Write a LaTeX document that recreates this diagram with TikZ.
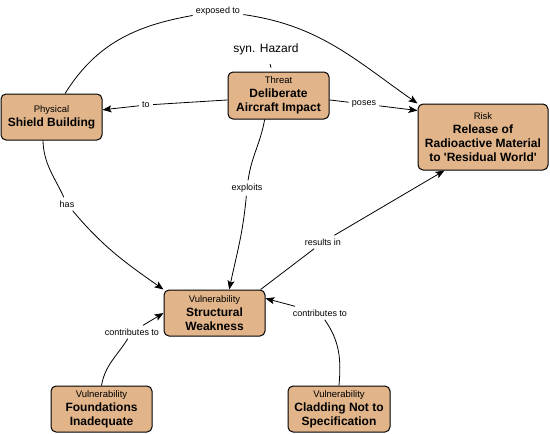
\documentclass[tikz,border=0pt]{standalone}
\usepackage{fontspec}
\setmainfont{Liberation Sans}
\usetikzlibrary{arrows.meta}

\definecolor{boxtan}{RGB}{225,180,138}

\tikzset{
  concept/.style={draw, line width=1pt, rounded corners=5pt, fill=boxtan,
    align=center, minimum width=101pt, minimum height=46pt, inner sep=2pt,
    font=\fontsize{12}{14}\selectfont\bfseries},
  linklabel/.style={font=\fontsize{9}{10}\selectfont, inner sep=3pt},
  link/.style={-{Stealth[length=9pt,width=7pt,inset=2pt]}},
}
\newcommand{\kind}[1]{{\fontsize{9.5}{11}\selectfont\mdseries #1}}

\begin{document}
\begin{tikzpicture}[
    x = 1pt,
    y = 1pt,
    line width = 0.8pt,
    ]
    \useasboundingbox (0,0) rectangle (550,-434);
    % concepts
    \node[concept] (shield) at (51.5,-117) {\kind{Physical}\\Shield Building};
    \node[concept, minimum height=47pt] (threat) at (278.5,-95.5)
      {\kind{Threat}\\Deliberate\\Aircraft Impact};
    \node[concept, minimum width=130pt, minimum height=66pt] (risk) at (483,-137)
      {\kind{Risk}\\Release of\\Radioactive Material\\to \textquotesingle Residual World\textquotesingle};
    \node[concept] (weak) at (214.5,-313) {\kind{Vulnerability}\\Structural\\Weakness};
    \node[concept] (found) at (101.5,-409) {\kind{Vulnerability}\\Foundations\\Inadequate};
    \node[concept, minimum width=102pt] (clad) at (339,-409)
      {\kind{Vulnerability}\\Cladding Not to\\Specification};
    \node[font=\fontsize{12}{14}\selectfont] (syn) at (266,-49) {syn. Hazard};
    % link labels
    \node[linklabel] (lexp)   at (218,-11)  {exposed to};
    \node[linklabel] (lto)    at (146,-105) {to};
    \node[linklabel] (lposes) at (364,-104) {poses};
    \node[linklabel] (lexpl)  at (247,-188) {exploits};
    \node[linklabel] (lhas)   at (67,-204)  {has};
    \node[linklabel] (lres)   at (323,-242) {results in};
    \node[linklabel] (lcfound) at (132,-332) {contributes to};
    \node[linklabel] (lcclad)  at (320,-313) {contributes to};
    % synonym
    \draw[shorten < = 6pt, shorten > = 4pt] (syn) -- (threat);
    % exposed to
    \draw (shield.60) to[out=58, in=190] (lexp);
    \draw[link] (lexp) to[out=-8, in=145] (risk.north west);
    % to, poses
    \draw (threat.185) -- (lto);
    \draw[link] (lto) -- (shield.8);
    \draw (threat.-5) -- (lposes);
    \draw[link] (lposes) -- (risk.158);
    % exploits
    \draw (threat.-120) to[out=-100, in=82] (lexpl);
    \draw[link] (lexpl) to[out=-95, in=78] (weak.58);
    % has
    \draw (shield.-110) to[out=-88, in=115] (lhas);
    \draw[link] (lhas) to[out=-50, in=145] (weak.north west);
    % results in
    \draw (weak.27) -- (lres);
    \draw[link] (lres) -- (risk.-139);
    % contributes to
    \draw (found.north) to[out=80, in=-122] (lcfound);
    \draw[link] (lcfound) -- (weak.west);
    \draw (clad.north) to[out=85, in=-55] (lcclad);
    \draw[link] (lcclad) -- (weak.16);
\end{tikzpicture}
\end{document}
